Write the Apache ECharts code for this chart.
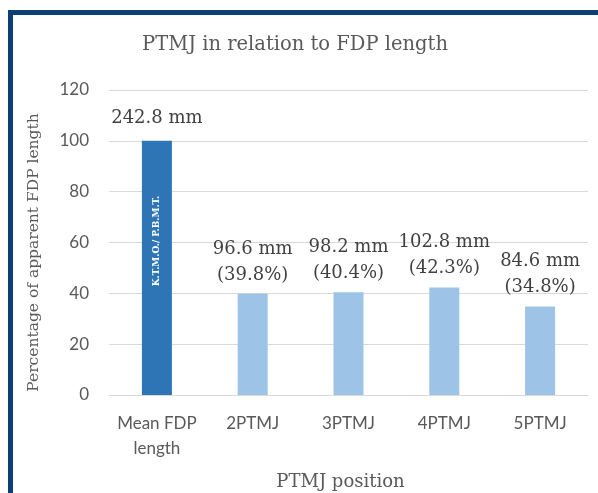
<!DOCTYPE html>
<html>
<head>
<meta charset="utf-8">
<script src="https://cdn.jsdelivr.net/npm/echarts@6/dist/echarts.min.js"></script>
<style>html,body{margin:0;padding:0;background:#fff;}#chart{width:598px;height:493px;}</style>
</head>
<body>
<div id="chart"></div>
<script>
const categories = ['Mean FDP\nlength', '2PTMJ', '3PTMJ', '4PTMJ', '5PTMJ'];
const percentValues = [100, 39.8, 40.4, 42.3, 34.8];
const mmValues = [242.8, 96.6, 98.2, 102.8, 84.6];
const barColors = ['#2e75b6', '#9dc3e6', '#9dc3e6', '#9dc3e6', '#9dc3e6'];
const yTicks = [0, 20, 40, 60, 80, 100, 120];

const serif = "'DejaVu Serif', 'Liberation Serif', serif";
const sans = "Lato, 'Open Sans', sans-serif";

const chart = echarts.init(document.getElementById('chart'), null, {renderer: 'canvas'});
chart.setOption({
  animation: false,
  backgroundColor: '#ffffff',
  title: {
    text: 'PTMJ in relation to FDP length',
    left: 290, top: 30, textAlign: 'center',
    textStyle: {fontFamily: serif, fontSize: 19.5, fontWeight: 'normal', color: '#595959'}
  },
  grid: {left: 109, right: 10, top: 90, bottom: 98, outerBoundsMode: 'none', containLabel: false},
  xAxis: {
    type: 'category',
    data: categories,
    name: 'PTMJ position',
    nameLocation: 'middle',
    nameGap: 78,
    nameTextStyle: {fontFamily: serif, fontSize: 18, color: '#595959', padding: [0, 16, 0, 0]},
    axisLine: {lineStyle: {color: '#d9d9d9', width: 1}},
    axisTick: {show: false},
    axisLabel: {fontFamily: sans, fontSize: 17, color: '#595959', margin: 16, lineHeight: 25, interval: 0}
  },
  yAxis: {
    type: 'value',
    min: yTicks[0], max: yTicks[yTicks.length - 1], interval: 20,
    name: 'Percentage of apparent FDP length',
    nameLocation: 'middle',
    nameGap: 67,
    nameTextStyle: {fontFamily: serif, fontSize: 15.5, color: '#595959', padding: [0, 20, 0, 0]},
    axisLine: {show: false},
    axisTick: {show: false},
    splitLine: {lineStyle: {color: '#d9d9d9', width: 1}},
    axisLabel: {fontFamily: sans, fontSize: 17, color: '#595959', margin: 20}
  },
  series: [{
    type: 'bar',
    barWidth: 30,
    data: percentValues.map((v, i) => ({
      value: v,
      itemStyle: {color: barColors[i]},
      label: {distance: i === 0 ? 10 : 6}
    })),
    label: {
      show: true,
      position: 'top',
      fontFamily: serif,
      fontSize: 18,
      lineHeight: 26,
      color: '#404040',
      formatter: p => p.dataIndex === 0
        ? mmValues[0] + ' mm'
        : mmValues[p.dataIndex] + ' mm\n(' + percentValues[p.dataIndex] + '%)'
    }
  }],
  graphic: [
    {
      type: 'rect',
      shape: {x: 10.5, y: 12.5, width: 800, height: 800},
      style: {fill: 'none', stroke: '#0e3f72', lineWidth: 5},
      silent: true, z: 100
    },
    {
      type: 'text',
      x: 157, y: 241,
      rotation: Math.PI / 2,
      style: {
        text: 'K.T.M.O./ P.B.M.T.',
        fill: '#ffffff',
        font: 'bold 9px ' + serif,
        align: 'center',
        verticalAlign: 'middle'
      },
      z: 100
    }
  ]
});
</script>
</body>
</html>
